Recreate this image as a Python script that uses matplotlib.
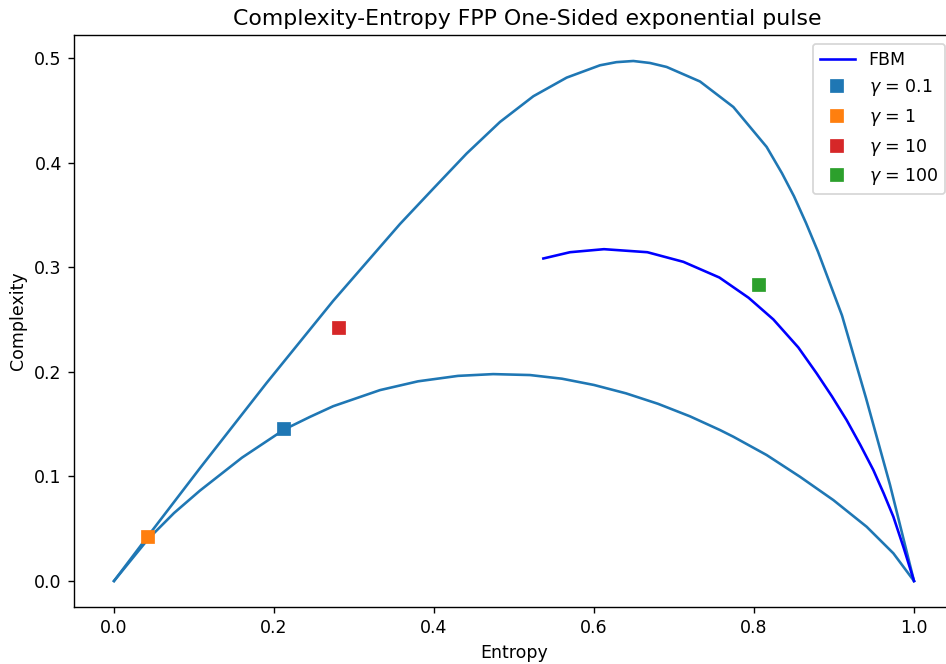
import matplotlib
matplotlib.use("Agg")
import matplotlib.pyplot as plt

# upper (max complexity) curve
h_max = [0.0, 0.0425, 0.1075, 0.1908, 0.274, 0.3575, 0.3992, 0.4408, 0.4825,
         0.5242, 0.5658, 0.6075, 0.628, 0.6492, 0.67, 0.6908, 0.7325, 0.7742,
         0.8158, 0.835, 0.85, 0.865, 0.88, 0.91, 0.94, 0.97, 1.0]
c_max = [0.0, 0.043, 0.108, 0.1895, 0.268, 0.3415, 0.3754, 0.4089, 0.4391,
         0.4637, 0.4815, 0.4933, 0.4963, 0.4974, 0.4955, 0.4917, 0.4778, 0.4534,
         0.4152, 0.390, 0.368, 0.3425, 0.315, 0.254, 0.175, 0.092, 0.0]

# lower (min complexity) curve
h_min = [0.0, 0.0425, 0.075, 0.1075, 0.16, 0.213, 0.245, 0.274, 0.3325, 0.38,
         0.43, 0.474, 0.52, 0.56, 0.60, 0.64, 0.68, 0.72, 0.7575, 0.7742,
         0.8158, 0.8575, 0.8992, 0.9408, 0.9742, 1.0]
c_min = [0.0, 0.040, 0.065, 0.0865, 0.118, 0.145, 0.157, 0.1672, 0.1826, 0.191,
         0.1962, 0.1979, 0.197, 0.1935, 0.1875, 0.1795, 0.1695, 0.1575, 0.1444, 0.138,
         0.1205, 0.0997, 0.0774, 0.0519, 0.0265, 0.0]

# FBM curve
h_fbm = [0.5367, 0.570, 0.6125, 0.6667, 0.7117, 0.7567, 0.7933, 0.8242,
         0.8554, 0.8783, 0.8975, 0.9158, 0.933, 0.9492, 0.962, 0.9742, 0.987, 1.0]
c_fbm = [0.3085, 0.3145, 0.3174, 0.3145, 0.3053, 0.2903, 0.2709, 0.2502,
         0.2234, 0.1986, 0.1765, 0.1539, 0.130, 0.1061, 0.084, 0.0615, 0.032, 0.0]

# FPP points
gammas = ["0.1", "1", "10", "100"]
h_fpp = [0.2125, 0.0425, 0.281, 0.8063]
c_fpp = [0.1453, 0.042, 0.2419, 0.2836]
colors = ["C0", "C1", "C3", "C2"]

fig = plt.figure(figsize=(946 / 125, 664 / 125), dpi=125)
ax = fig.add_axes([74 / 946, 57 / 664, 880 / 946, 572 / 664])

ax.plot(h_max, c_max, color="C0")
ax.plot(h_min, c_min, color="C0")
ax.plot(h_fbm, c_fbm, color="b", label="FBM")
for g, h, c, col in zip(gammas, h_fpp, c_fpp, colors):
    ax.plot(h, c, "s", color=col, markersize=7, label=r"$\gamma$ = " + g)

ax.set_xlabel("Entropy")
ax.set_ylabel("Complexity")
ax.set_title("Complexity-Entropy FPP One-Sided exponential pulse", fontsize=12.7, x=0.515)
ax.legend(loc="upper right")

fig.savefig("out.png", dpi=125)
